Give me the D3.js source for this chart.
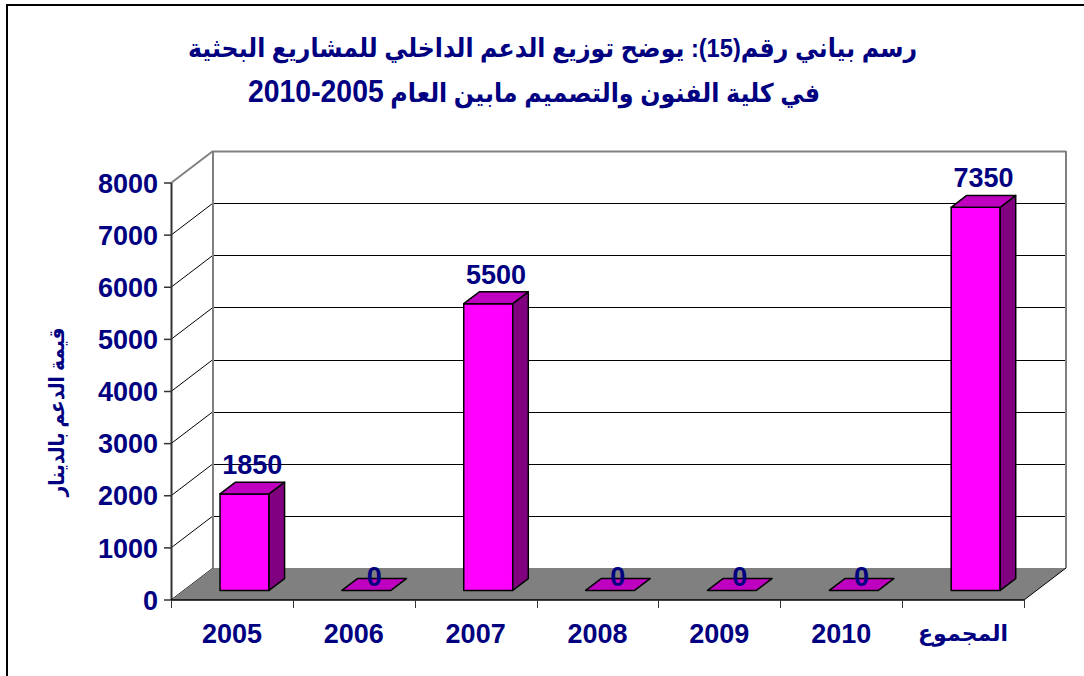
<!DOCTYPE html>
<html>
<head>
<meta charset="utf-8">
<script src="https://cdn.jsdelivr.net/npm/d3@7"></script>
<style>
  body { margin: 0; background: #fff; }
  svg { display: block; }
  text { font-family: "Liberation Sans", Arial, "DejaVu Sans", sans-serif; font-weight: bold; fill: #000080; }
</style>
</head>
<body>
<div id="chart"></div>
<script>
// chart data
const categories = ["2005", "2006", "2007", "2008", "2009", "2010", "المجموع"];
const values = [1850, 0, 5500, 0, 0, 0, 7350];
const yTicks = [0, 1000, 2000, 3000, 4000, 5000, 6000, 7000, 8000];
// title pieces: [text, isNumber]
const titleLine1 = [["رسم بياني رقم(15): يوضح توزيع الدعم الداخلي للمشاريع البحثية", false]];
const titleLine2 = [["في كلية الفنون والتصميم مابين العام ", false], ["2005-2010", true]];
const yTitle = "قيمة الدعم بالدينار";

const width = 1084, height = 676;

const svg = d3.select("#chart").append("svg")
  .attr("width", width)
  .attr("height", height);

// outer frame (only top/left visible in the picture)
svg.append("rect")
  .attr("x", 7).attr("y", 5)
  .attr("width", width + 20).attr("height", height + 20)
  .attr("fill", "none").attr("stroke", "#000").attr("stroke-width", 2);

// scales
const x = d3.scaleBand().domain(categories).range([171, 1024]);
const y = d3.scaleLinear().domain([0, 8000]).range([600, 183]);

// depth vector of the 3D box
const dx = 42, dy = -32;
const zFront = 0.3, zBack = 0.67;
const barW = 49;

const x0 = x.range()[0], x1 = x.range()[1];
const yBot = y(0), yTop = y(8000);

// left side wall
svg.append("polygon")
  .attr("points", [[x0, yBot], [x0 + dx, yBot + dy], [x0 + dx, yTop + dy], [x0, yTop]].join(" "))
  .attr("fill", "#fff");

// back wall gridlines + side wall diagonals
const grid = svg.append("g");
yTicks.forEach(v => {
  grid.append("line")
    .attr("x1", x0).attr("y1", y(v))
    .attr("x2", x0 + dx).attr("y2", y(v) + dy)
    .attr("stroke", v === 8000 ? "#808080" : "#000")
    .attr("stroke-width", v === 8000 ? 2 : 1);
  grid.append("line")
    .attr("x1", x0 + dx).attr("y1", Math.round(y(v) + dy) + 0.5)
    .attr("x2", x1 + dx).attr("y2", Math.round(y(v) + dy) + 0.5)
    .attr("stroke", v === 8000 ? "#808080" : "#000")
    .attr("stroke-width", v === 8000 ? 2 : 1);
});

// back wall verticals
[x0 + dx, x1 + dx].forEach(xx => {
  svg.append("line")
    .attr("x1", xx).attr("y1", yTop + dy)
    .attr("x2", xx).attr("y2", yBot + dy)
    .attr("stroke", "#808080").attr("stroke-width", 2);
});

// floor
svg.append("polygon")
  .attr("points", [[x0, yBot], [x1, yBot], [x1 + dx, yBot + dy], [x0 + dx, yBot + dy]].join(" "))
  .attr("fill", "#808080");
svg.append("line")
  .attr("x1", x1).attr("y1", yBot).attr("x2", x1 + dx).attr("y2", yBot + dy)
  .attr("stroke", "#000").attr("stroke-width", 1);

// y axis
svg.append("line")
  .attr("x1", x0 + 0.5).attr("y1", yTop).attr("x2", x0 + 0.5).attr("y2", yBot)
  .attr("stroke", "#333").attr("stroke-width", 2);
const yAxis = svg.append("g");
yTicks.forEach(v => {
  yAxis.append("line")
    .attr("x1", x0 - 7).attr("x2", x0)
    .attr("y1", y(v)).attr("y2", y(v))
    .attr("stroke", "#333").attr("stroke-width", 1.5);
  yAxis.append("text")
    .attr("x", x0 - 13).attr("y", y(v))
    .attr("dy", "0.36em")
    .attr("text-anchor", "end")
    .attr("font-size", 27)
    .text(v);
});

// x axis
svg.append("line")
  .attr("x1", x0).attr("y1", yBot).attr("x2", x1).attr("y2", yBot)
  .attr("stroke", "#000").attr("stroke-width", 1.5);
const bounds = categories.map(c => x(c)).concat([x1]);
bounds.forEach(b => {
  svg.append("line")
    .attr("x1", Math.round(b) + 0.5).attr("x2", Math.round(b) + 0.5)
    .attr("y1", yBot).attr("y2", yBot + 8)
    .attr("stroke", "#333").attr("stroke-width", 1);
});
svg.append("g").selectAll("text")
  .data(categories)
  .join("text")
  .attr("x", d => x(d) + x.bandwidth() / 2)
  .attr("y", 633)
  .attr("dy", "0.36em")
  .attr("text-anchor", "middle")
  .attr("font-size", d => /\d/.test(d) ? 27 : 22)
  .text(d => d);

// bars
const data = categories.map((c, i) => ({ cat: c, value: values[i] }));
const bars = svg.append("g");
data.forEach(d => {
  const cx = x(d.cat) + x.bandwidth() / 2 + dx * zFront;
  const bl = cx - barW / 2, br = cx + barW / 2;
  const yb = y(0) + dy * zFront;
  const yt = y(d.value) + dy * zFront;
  const ddx = dx * (zBack - zFront), ddy = dy * (zBack - zFront);
  const g = bars.append("g")
    .attr("stroke", "#000").attr("stroke-width", 1.5).attr("stroke-linejoin", "round");
  if (d.value > 0) {
    g.append("polygon")
      .attr("points", [[bl, yb], [br, yb], [br, yt], [bl, yt]].join(" "))
      .attr("fill", "#ff00ff");
    g.append("polygon")
      .attr("points", [[br, yb], [br + ddx, yb + ddy], [br + ddx, yt + ddy], [br, yt]].join(" "))
      .attr("fill", "#800080");
  }
  g.append("polygon")
    .attr("points", [[bl, yt], [br, yt], [br + ddx, yt + ddy], [bl + ddx, yt + ddy]].join(" "))
    .attr("fill", "#c000c0");

  // value label
  bars.append("text")
    .attr("x", cx + ddx / 2)
    .attr("y", d.value > 0 ? yt - 20 : yt - 4)
    .attr("text-anchor", "middle")
    .attr("font-size", 27)
    .text(d.value);
});

// y axis title
svg.append("text")
  .attr("transform", "translate(64,412) rotate(-90)")
  .attr("text-anchor", "middle")
  .attr("font-size", 21)
  .attr("textLength", 169)
  .attr("lengthAdjust", "spacingAndGlyphs")
  .text(yTitle);

// title
const titleSpan = [[188, 917], [248, 820]];
[titleLine1, titleLine2].forEach((parts, i) => {
  const [a, b] = titleSpan[i];
  const t = svg.append("text")
    .attr("x", (a + b) / 2)
    .attr("y", 57 + i * 45)
    .attr("text-anchor", "middle")
    .attr("textLength", b - a)
    .attr("lengthAdjust", "spacingAndGlyphs")
    .attr("direction", "rtl")
    .style("unicode-bidi", "plaintext");
  parts.forEach(([s, num]) => {
    t.append("tspan")
      .attr("font-size", num ? 31 : 26)
      .text(s);
  });
});
</script>
</body>
</html>
